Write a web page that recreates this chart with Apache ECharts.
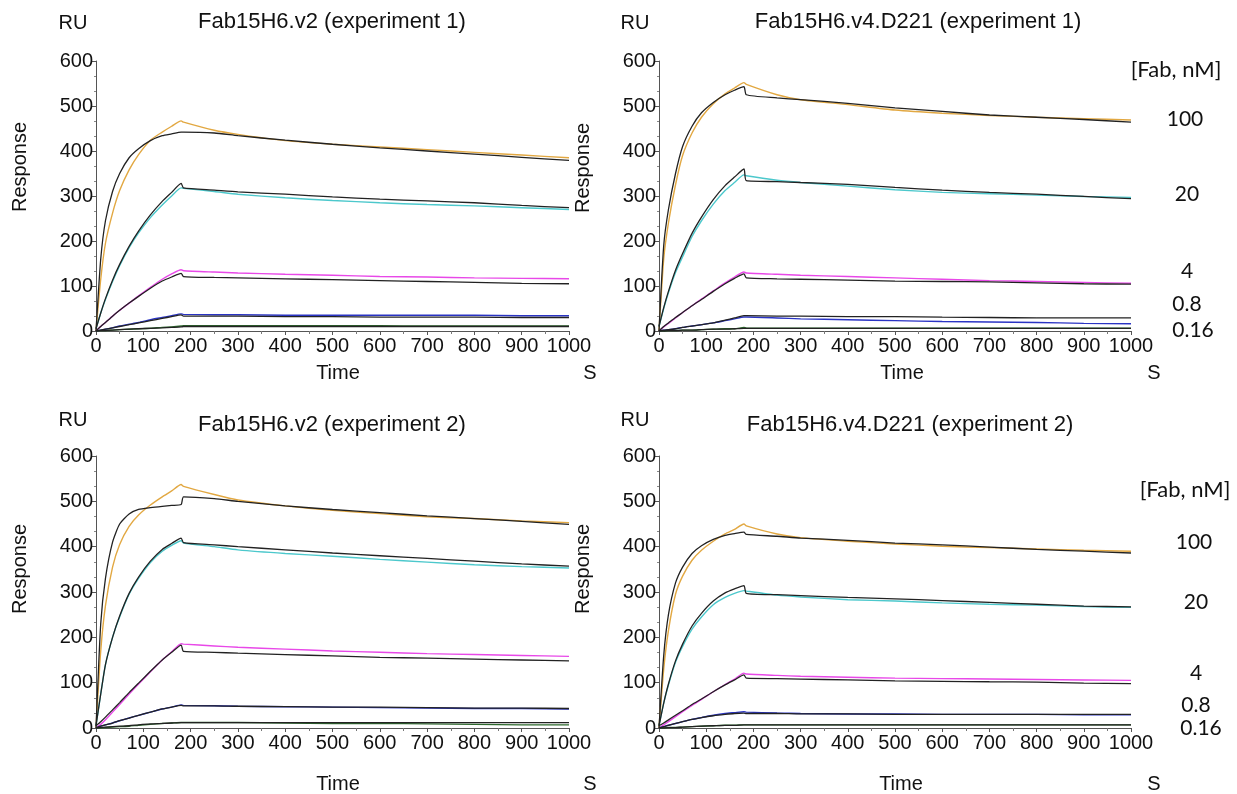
<!DOCTYPE html>
<html lang="en">
  <head>
    <meta charset="utf-8" />
    <title>Fab15H6 SPR sensorgrams</title>
    <script src="https://cdn.jsdelivr.net/npm/echarts@6/dist/echarts.min.js"></script>
    <style>
      html, body { margin: 0; padding: 0; background: #fff; }
      #main { width: 1237px; height: 794px; }
    </style>
  </head>
  <body>
    <div id="main"></div>
    <script>
      // time points (s) shared by every curve
      var times = [0, 10, 20, 35, 50, 70, 90, 115, 140, 160, 180, 185, 250, 300, 400, 500, 600, 700, 800, 900, 1000];
      var concLabels = ["100", "20", "4", "0.8", "0.16"];
      var xTicks = [0, 100, 200, 300, 400, 500, 600, 700, 800, 900, 1000];
      var yTicks = [0, 100, 200, 300, 400, 500, 600];

      // Fab15H6.v2 (experiment 1)
      var v2e1_100 = [0, 115, 195, 262, 312, 358, 392, 424, 442, 455, 467, 464, 446, 437, 423, 415, 409, 403, 397, 391, 385];
      var v2e1_100_fit = [0, 160, 245, 310, 350, 385, 405, 423, 434, 438, 442, 442, 440, 434, 424, 415, 407, 400, 393, 386, 379];
      var v2e1_20 = [5, 40, 70, 110, 145, 185, 218, 252, 280, 300, 318, 317, 310, 304, 296, 290, 285, 281, 278, 274, 270];
      var v2e1_20_fit = [5, 40, 72, 113, 148, 188, 222, 258, 288, 308, 328, 318, 313, 309, 304, 298, 293, 289, 285, 279, 274];
      var v2e1_4 = [0, 10, 19, 33, 46, 62, 78, 97, 115, 127, 136, 134, 131, 129, 126, 124, 121, 120, 118, 117, 116];
      var v2e1_4_fit = [0, 10, 19, 33, 46, 62, 77, 95, 111, 120, 128, 121, 119, 118, 116, 114, 112, 110, 108, 106, 105];
      var v2e1_08 = [0, 2, 4, 7, 11, 15, 19, 25, 30, 34, 38, 37, 36, 36, 35, 35, 35, 35, 35, 34, 34];
      var v2e1_08_fit = [0, 2, 4, 7, 10, 14, 18, 23, 28, 32, 36, 33, 33, 33, 32, 32, 31, 31, 31, 30, 30];
      var v2e1_016 = [0, 1, 1, 2, 3, 4, 5, 6, 8, 9, 11, 12, 12, 12, 12, 12, 12, 11, 11, 11, 11];
      var v2e1_016_fit = [0, 1, 1, 2, 3, 4, 5, 6, 7, 8, 9, 10, 10, 10, 10, 10, 10, 10, 10, 10, 10];

      // Fab15H6.v4.D221 (experiment 1)
      var v4e1_100 = [0, 160, 240, 325, 390, 440, 475, 505, 527, 540, 552, 548, 525, 514, 503, 491, 484, 479, 475, 472, 469];
      var v4e1_100_fit = [0, 190, 270, 350, 410, 455, 485, 508, 525, 535, 543, 525, 518, 514, 506, 496, 488, 480, 475, 470, 464];
      var v4e1_20 = [10, 50, 85, 130, 165, 210, 245, 282, 312, 330, 347, 345, 335, 330, 322, 314, 308, 305, 302, 299, 297];
      var v4e1_20_fit = [10, 52, 88, 135, 172, 217, 253, 292, 323, 342, 360, 334, 332, 330, 326, 319, 313, 308, 304, 299, 294];
      var v4e1_4 = [0, 9, 17, 29, 41, 56, 71, 89, 107, 120, 131, 129, 126, 124, 121, 118, 115, 112, 110, 108, 106];
      var v4e1_4_fit = [0, 10, 18, 30, 41, 56, 70, 88, 105, 117, 127, 118, 116, 115, 113, 111, 110, 109, 107, 105, 104];
      var v4e1_08 = [0, 2, 3, 5, 8, 11, 14, 18, 23, 27, 31, 31, 29, 27, 25, 23, 21, 20, 19, 17, 16];
      var v4e1_08_fit = [0, 2, 3, 5, 8, 11, 14, 18, 24, 29, 34, 34, 33, 33, 32, 32, 31, 30, 29, 29, 29];
      var v4e1_016 = [0, 0, 1, 1, 2, 2, 3, 4, 5, 5, 8, 7, 6, 6, 6, 6, 6, 6, 6, 6, 6];
      var v4e1_016_fit = [0, 0, 1, 1, 2, 2, 3, 4, 4, 5, 6, 6, 6, 6, 6, 6, 6, 6, 6, 6, 6];

      // Fab15H6.v2 (experiment 2)
      var v2e2_100 = [0, 170, 270, 355, 405, 445, 470, 492, 510, 523, 537, 533, 515, 503, 490, 480, 473, 466, 462, 457, 453];
      var v2e2_100_fit = [0, 230, 330, 410, 450, 472, 482, 486, 489, 491, 493, 510, 506, 500, 490, 482, 475, 468, 462, 456, 449];
      var v2e2_20 = [5, 75, 140, 200, 245, 295, 330, 365, 390, 403, 413, 408, 400, 393, 385, 379, 372, 366, 360, 356, 353];
      var v2e2_20_fit = [5, 75, 140, 200, 247, 297, 333, 368, 394, 407, 419, 409, 404, 400, 393, 386, 380, 374, 368, 362, 357];
      var v2e2_4 = [0, 8, 18, 35, 52, 75, 97, 124, 150, 168, 186, 185, 181, 178, 174, 170, 167, 164, 162, 160, 158];
      var v2e2_4_fit = [5, 14, 24, 40, 56, 78, 99, 125, 150, 167, 183, 169, 167, 165, 162, 159, 156, 154, 152, 150, 148];
      var v2e2_08 = [0, 4, 7, 11, 16, 22, 28, 35, 42, 46, 51, 50, 49, 48, 47, 46, 45, 44, 43, 43, 42];
      var v2e2_08_fit = [0, 4, 7, 11, 16, 22, 28, 35, 42, 46, 50, 49, 49, 48, 47, 46, 46, 45, 44, 44, 43];
      var v2e2_016 = [0, 0, 1, 2, 3, 4, 6, 8, 10, 11, 12, 12, 12, 12, 11, 10, 10, 9, 8, 7, 7];
      var v2e2_016_fit = [0, 1, 2, 3, 4, 5, 7, 9, 10, 11, 12, 12, 12, 12, 12, 12, 12, 12, 12, 12, 12];

      // Fab15H6.v4.D221 (experiment 2)
      var v4e2_100 = [0, 130, 215, 295, 335, 370, 392, 412, 428, 438, 450, 446, 428, 420, 412, 406, 401, 398, 395, 392, 390];
      var v4e2_100_fit = [0, 160, 250, 320, 355, 385, 402, 416, 425, 429, 432, 427, 423, 419, 414, 408, 404, 399, 394, 390, 386];
      var v4e2_20 = [5, 55, 95, 145, 180, 218, 245, 272, 288, 297, 303, 302, 293, 289, 283, 280, 276, 273, 271, 268, 266];
      var v4e2_20_fit = [5, 55, 97, 148, 185, 225, 253, 280, 298, 307, 314, 297, 294, 292, 288, 285, 281, 277, 273, 269, 267];
      var v4e2_4 = [0, 7, 14, 25, 36, 50, 63, 80, 96, 108, 121, 119, 116, 114, 112, 110, 109, 108, 107, 106, 105];
      var v4e2_4_fit = [5, 11, 18, 28, 38, 52, 64, 80, 95, 106, 117, 110, 109, 108, 106, 104, 103, 102, 101, 99, 98];
      var v4e2_08 = [0, 3, 6, 10, 14, 19, 23, 28, 32, 34, 36, 35, 33, 32, 31, 31, 30, 30, 30, 29, 29];
      var v4e2_08_fit = [0, 3, 6, 10, 14, 19, 23, 27, 30, 32, 33, 32, 32, 31, 31, 30, 30, 30, 30, 30, 30];
      var v4e2_016 = [0, 0, 1, 1, 2, 3, 4, 5, 6, 6, 7, 7, 7, 7, 7, 7, 7, 7, 7, 7, 7];
      var v4e2_016_fit = [0, 0, 1, 1, 2, 3, 4, 5, 6, 6, 7, 7, 7, 7, 7, 7, 7, 7, 7, 7, 7];

      var panels = [
        { title: "Fab15H6.v2 (experiment 1)", data: [v2e1_100, v2e1_20, v2e1_4, v2e1_08, v2e1_016], fit: [v2e1_100_fit, v2e1_20_fit, v2e1_4_fit, v2e1_08_fit, v2e1_016_fit] },
        { title: "Fab15H6.v4.D221 (experiment 1)", data: [v4e1_100, v4e1_20, v4e1_4, v4e1_08, v4e1_016], fit: [v4e1_100_fit, v4e1_20_fit, v4e1_4_fit, v4e1_08_fit, v4e1_016_fit] },
        { title: "Fab15H6.v2 (experiment 2)", data: [v2e2_100, v2e2_20, v2e2_4, v2e2_08, v2e2_016], fit: [v2e2_100_fit, v2e2_20_fit, v2e2_4_fit, v2e2_08_fit, v2e2_016_fit] },
        { title: "Fab15H6.v4.D221 (experiment 2)", data: [v4e2_100, v4e2_20, v4e2_4, v4e2_08, v4e2_016], fit: [v4e2_100_fit, v4e2_20_fit, v4e2_4_fit, v4e2_08_fit, v4e2_016_fit] }
      ];

      var curveColors = ["#e2a842", "#4cc8cc", "#e848e8", "#2a34c4", "#2e6a2e"];
      var fitColor = "#222";
      var font = "Liberation Sans, Arial, sans-serif";

      // grid boxes in pixels, plus where each panel's texts sit
      var boxes = [
        { left: 96, top: 61, width: 473, height: 270, titleX: 332, titleY: 22, ruX: 73, ruY: 23, respY: 167, timeX: 338, timeY: 373, sX: 590 },
        { left: 659, top: 61, width: 472, height: 270, titleX: 918, titleY: 22, ruX: 635, ruY: 23, respY: 168, timeX: 902, timeY: 373, sX: 1154 },
        { left: 96, top: 456, width: 473, height: 272, titleX: 332, titleY: 425, ruX: 73, ruY: 420, respY: 569, timeX: 338, timeY: 784, sX: 590 },
        { left: 659, top: 456, width: 472, height: 272, titleX: 910, titleY: 425, ruX: 635, ruY: 420, respY: 569, timeX: 901, timeY: 784, sX: 1154 }
      ];

      var grids = [], xAxes = [], yAxes = [], series = [], graphics = [];

      function plain(v) { return String(v); }

      function curve(p, arr, color, width, z) {
        return {
          type: "line", xAxisIndex: p, yAxisIndex: p, showSymbol: false, animation: false,
          smooth: 0.2, lineStyle: { color: color, width: width }, z: z,
          data: times.map(function (t, i) { return [t, arr[i]]; })
        };
      }

      boxes.forEach(function (b, p) {
        grids.push({ left: b.left, top: b.top, width: b.width, height: b.height, containLabel: false });
        xAxes.push({
          type: "value", gridIndex: p, min: xTicks[0], max: xTicks[xTicks.length - 1], interval: 100,
          axisLine: { show: true, onZero: false, lineStyle: { color: "#555", width: 1 } },
          axisTick: { show: true, length: 4, lineStyle: { color: "#555" } },
          minorTick: { show: true, splitNumber: 2, length: 3, lineStyle: { color: "#777" } },
          splitLine: { show: false },
          axisLabel: { color: "#111", fontFamily: font, fontSize: 20, margin: 5, formatter: plain }
        });
        yAxes.push({
          type: "value", gridIndex: p, min: yTicks[0], max: yTicks[yTicks.length - 1], interval: 100,
          axisLine: { show: true, lineStyle: { color: "#555", width: 1 } },
          axisTick: { show: true, length: 4, lineStyle: { color: "#555" } },
          minorTick: { show: true, splitNumber: 3, length: 2, lineStyle: { color: "#888" } },
          splitLine: { show: false },
          axisLabel: { color: "#111", fontFamily: font, fontSize: 20, margin: 3, formatter: plain }
        });

        var pan = panels[p];
        pan.data.forEach(function (arr, k) { series.push(curve(p, arr, curveColors[k], 1.4, 2)); });
        pan.fit.forEach(function (arr) { series.push(curve(p, arr, fitColor, 1.3, 3)); });

        graphics.push({ type: "text", x: b.titleX, y: b.titleY,
          style: { text: pan.title, font: "22px " + font, fill: "#111", align: "center", verticalAlign: "middle" } });
        graphics.push({ type: "text", x: b.ruX, y: b.ruY,
          style: { text: "RU", font: "20px " + font, fill: "#111", align: "center", verticalAlign: "middle" } });
        graphics.push({ type: "text", x: b.left - 76, y: b.respY, rotation: Math.PI / 2,
          style: { text: "Response", font: "20px " + font, fill: "#111", align: "center", verticalAlign: "middle" } });
        graphics.push({ type: "text", x: b.timeX, y: b.timeY,
          style: { text: "Time", font: "20px " + font, fill: "#111", align: "center", verticalAlign: "middle" } });
        graphics.push({ type: "text", x: b.sX, y: b.timeY,
          style: { text: "S", font: "20px " + font, fill: "#111", align: "center", verticalAlign: "middle" } });
      });

      // concentration labels next to the right-hand panels
      var labelFont = "Lato, 'Open Sans', sans-serif";
      var headPos = [[1176, 70], [1185, 490]];
      var concX = [[1185, 1187, 1187, 1187, 1193], [1194, 1196, 1196, 1196, 1201]];
      var concY = [[119, 194, 271, 304, 330], [542, 602, 673, 705, 728]];
      [0, 1].forEach(function (r) {
        graphics.push({ type: "text", x: headPos[r][0], y: headPos[r][1],
          style: { text: "[Fab, nM]", font: "22px " + labelFont, fill: "#111", align: "center", verticalAlign: "middle" } });
        concLabels.forEach(function (c, k) {
          graphics.push({ type: "text", x: concX[r][k], y: concY[r][k],
            style: { text: c, font: "21px " + labelFont, fill: "#111", align: "center", verticalAlign: "middle" } });
        });
      });

      var chart = echarts.init(document.getElementById("main"), null, { renderer: "canvas" });
      chart.setOption({
        backgroundColor: "#fff",
        animation: false,
        grid: grids,
        xAxis: xAxes,
        yAxis: yAxes,
        series: series,
        graphic: graphics
      });
    </script>
  </body>
</html>
